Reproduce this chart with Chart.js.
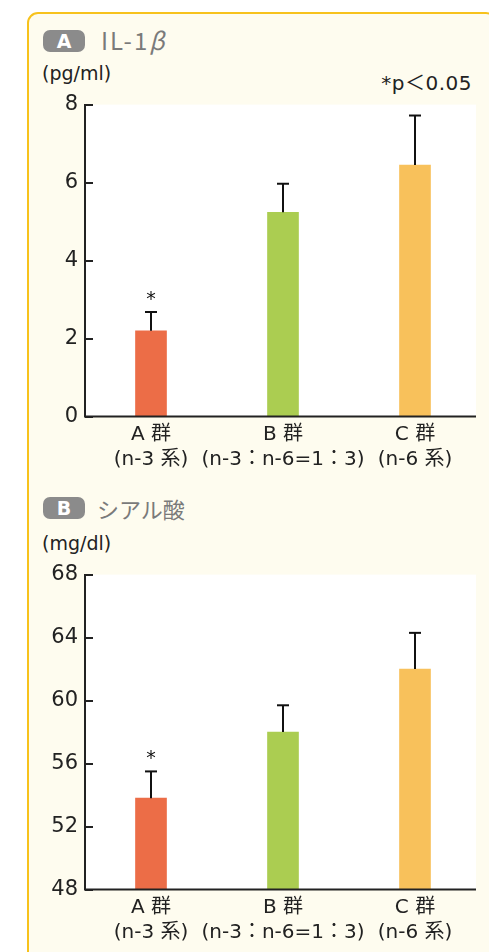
<!DOCTYPE html>
<html><head><meta charset="utf-8">
<script src="https://cdn.jsdelivr.net/npm/chart.js@4.4.1/dist/chart.umd.min.js"></script>
<style>
html,body{margin:0;padding:0;background:#fff;overflow:hidden;width:489px;height:952px;position:relative;}
#panel{position:absolute;left:27px;top:12px;width:470px;height:1000px;box-sizing:border-box;border:2px solid #f7c21c;border-radius:11px;background:#fefcef;}
.badge{position:absolute;left:43px;width:42px;height:22px;border-radius:7px;background:#8b8b8b;color:#fff;font:bold 19px "DejaVu Sans",sans-serif;text-align:center;line-height:22px;}
.title{position:absolute;left:101px;color:#7a7a7a;font:22px "Noto Sans CJK JP","DejaVu Sans",sans-serif;line-height:26px;}
.unit{position:absolute;left:42px;color:#222;font:19px "DejaVu Sans","Noto Sans CJK JP",sans-serif;line-height:22px;}
.note{position:absolute;right:17px;color:#222;font:20px "DejaVu Sans","Noto Sans CJK JP",sans-serif;line-height:22px;letter-spacing:0.5px;}
canvas{position:absolute;left:28px;}
</style></head>
<body>
<div id="panel"></div>
<div class="badge" style="top:30px">A</div>
<div class="title" style="top:27px;font-size:24px;letter-spacing:2px">IL-1<i>β</i></div>
<div class="unit" style="top:62px">(pg/ml)</div>
<div class="note" style="top:72px">*p＜0.05</div>
<div class="badge" style="top:497px">B</div>
<div class="title" style="top:495px;left:97px">シアル酸</div>
<div class="unit" style="top:532px">(mg/dl)</div>
<canvas id="cA" width="460" height="400" style="top:85px"></canvas>
<canvas id="cB" width="460" height="395" style="top:555px"></canvas>
<script>
// ---- data ----
const categories = [["A 群", "(n-3 系)"], ["B 群", "(n-3：n-6=1：3)"], ["C 群", "(n-6 系)"]];
const il1bMean = [2.2, 5.24, 6.45];
const il1bSD = [0.48, 0.73, 1.27];
const il1bSig = [true, false, false];
const sialMean = [53.8, 58.0, 62.0];
const sialSD = [1.7, 1.7, 2.3];
const sialSig = [true, false, false];
const il1bTicks = {min: 0, max: 8, step: 2};
const sialTicks = {min: 48, max: 68, step: 4};
const barColors = ["#ec6d47", "#abcd51", "#f8c15b"];

const FONT = '"DejaVu Sans", "Noto Sans CJK JP", sans-serif';
const PLOT_RIGHT_INSET = 5;

const bgPlugin = {
  id: 'bg',
  beforeDraw(chart) {
    const {ctx, chartArea: a} = chart;
    ctx.save(); ctx.fillStyle = '#fff';
    ctx.fillRect(a.left, a.top, a.right - PLOT_RIGHT_INSET - a.left, a.bottom - a.top);
    ctx.restore();
  }
};
const axisPlugin = {
  id: 'axes',
  afterDraw(chart) {
    const {ctx, chartArea: a} = chart;
    const ys = chart.scales.y;
    ctx.save(); ctx.strokeStyle = '#222'; ctx.lineWidth = 2;
    ctx.beginPath(); ctx.moveTo(a.left - 1, a.bottom); ctx.lineTo(a.right - PLOT_RIGHT_INSET, a.bottom); ctx.stroke();
    ys.ticks.forEach(t => {
      const py = Math.round(ys.getPixelForValue(t.value));
      ctx.beginPath(); ctx.moveTo(a.left, py); ctx.lineTo(a.left + 8, py); ctx.stroke();
    });
    ctx.restore();
  }
};
const errPlugin = {
  id: 'err',
  afterDatasetsDraw(chart, args, opts) {
    const {ctx} = chart;
    const ys = chart.scales.y;
    const meta = chart.getDatasetMeta(0);
    const vals = chart.data.datasets[0].data;
    ctx.save(); ctx.strokeStyle = '#111'; ctx.lineWidth = 2;
    meta.data.forEach((bar, i) => {
      const yTop = ys.getPixelForValue(vals[i] + opts.sd[i]);
      ctx.beginPath(); ctx.moveTo(bar.x, bar.y); ctx.lineTo(bar.x, yTop); ctx.stroke();
      ctx.beginPath(); ctx.moveTo(bar.x - 6, yTop); ctx.lineTo(bar.x + 6, yTop); ctx.stroke();
      if (opts.sig[i]) {
        ctx.fillStyle = '#111'; ctx.font = '19px ' + FONT;
        ctx.textAlign = 'center'; ctx.textBaseline = 'alphabetic';
        ctx.fillText('*', bar.x, yTop - 7);
      }
    });
    ctx.restore();
  }
};

function makeChart(id, mean, sd, sig, tk, padTop, xH) {
  return new Chart(document.getElementById(id), {
    type: 'bar',
    data: {labels: categories, datasets: [{data: mean, backgroundColor: barColors, barThickness: 31}]},
    options: {
      responsive: false, animation: false, devicePixelRatio: 1,
      layout: {padding: {top: padTop, right: 7, left: 0, bottom: 0}},
      plugins: {legend: {display: false}, tooltip: {enabled: false},
        err: {sd: sd, sig: sig}},
      scales: {
        x: {
          grid: {display: false, drawTicks: false},
          border: {display: false},
          ticks: {color: '#222', font: {family: FONT, size: 20, lineHeight: 1.25}, padding: 6, maxRotation: 0, autoSkip: false},
          afterFit(s) { s.height = xH; }
        },
        y: {
          min: tk.min, max: tk.max,
          grid: {display: false, drawTicks: false},
          border: {display: true, color: '#222', width: 2},
          ticks: {stepSize: tk.step, color: '#222', font: {family: FONT, size: 21}, padding: 7},
          afterFit(s) { s.width = 57; }
        }
      }
    },
    plugins: [bgPlugin, axisPlugin, errPlugin]
  });
}
makeChart('cA', il1bMean, il1bSD, il1bSig, il1bTicks, 15, 68.5);
makeChart('cB', sialMean, sialSD, sialSig, sialTicks, 18, 60.5);
</script>
</body></html>
